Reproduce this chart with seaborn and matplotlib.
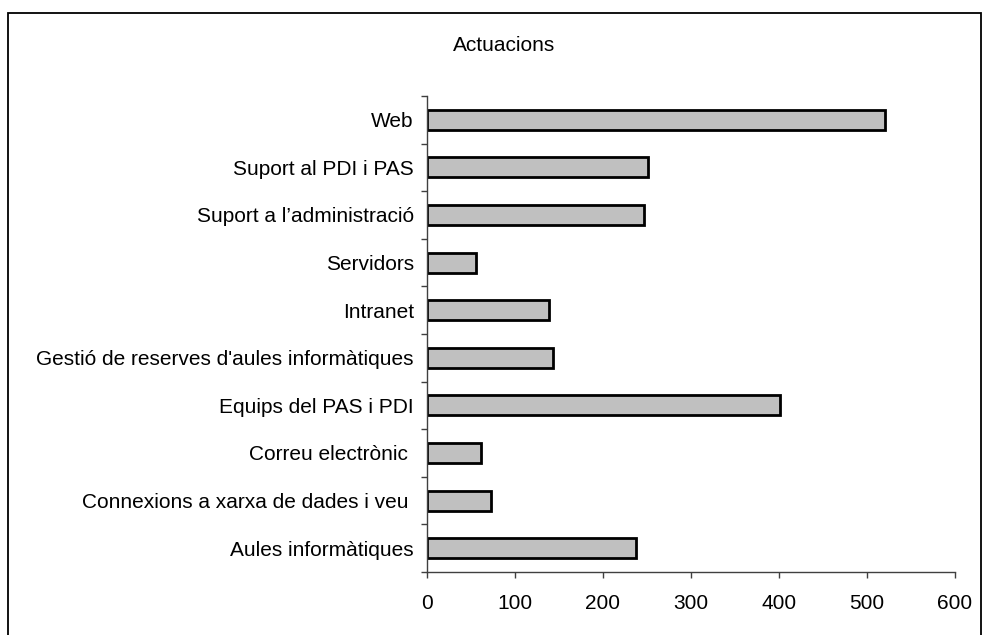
import matplotlib
matplotlib.use("Agg")
import matplotlib.pyplot as plt
from matplotlib.patches import Rectangle
from matplotlib.ticker import FixedLocator
import seaborn as sns
import pandas as pd

categories = [
    "Web",
    "Suport al PDI i PAS",
    "Suport a l\u2019administració",
    "Servidors",
    "Intranet",
    "Gestió de reserves d'aules informàtiques",
    "Equips del PAS i PDI",
    "Correu electrònic ",
    "Connexions a xarxa de dades i veu ",
    "Aules informàtiques",
]
values = [520, 251, 247, 56, 139, 143, 401, 61, 73, 238]
title = "Actuacions"
xticks = [0, 100, 200, 300, 400, 500, 600]

sns.set_theme(style="white")
plt.rcParams['font.family'] = ['Liberation Sans', 'DejaVu Sans']

df = pd.DataFrame({"cat": categories, "val": values})

fig = plt.figure(figsize=(9.82, 6.35), dpi=100)
ax = fig.add_axes([427/982, 1 - 572/635, (955-427)/982, (572-96)/635])

sns.barplot(data=df, x="val", y="cat", order=categories, ax=ax,
            color="#c0c0c0", edgecolor="black", linewidth=2.0, width=0.42,
            saturation=1)

ax.set_xlim(0, 600)
ax.set_ylim(len(categories) - 0.5, -0.5)
ax.set_xticks(xticks)
ax.set_xticklabels([str(t) for t in xticks])
ax.set_xlabel("")
ax.set_ylabel("")

for s in ["top", "right"]:
    ax.spines[s].set_visible(False)
for s in ["left", "bottom"]:
    ax.spines[s].set_visible(True)
    ax.spines[s].set_color("#404040")
    ax.spines[s].set_linewidth(1.0)

ax.yaxis.set_minor_locator(FixedLocator([i - 0.5 for i in range(len(categories) + 1)]))
ax.tick_params(axis="y", which="major", length=0, pad=9.5, labelsize=15, colors="black")
ax.tick_params(axis="y", which="minor", left=True, length=4, width=1, color="#404040", direction="out")
ax.tick_params(axis="x", which="major", bottom=True, length=4.5, width=1, color="#404040",
               direction="out", pad=11, labelsize=15, labelcolor="black")

fig.text(453/982, 1 - 51/635, title, ha="left", va="baseline", fontsize=15, color="black")

frame = Rectangle((8/982, -0.05), (981 - 8)/982, 1.05 - 13/635,
                  transform=fig.transFigure, fill=False, edgecolor="black",
                  linewidth=1.3, clip_on=False)
fig.patches.append(frame)

fig.savefig("out.png", dpi=100)
